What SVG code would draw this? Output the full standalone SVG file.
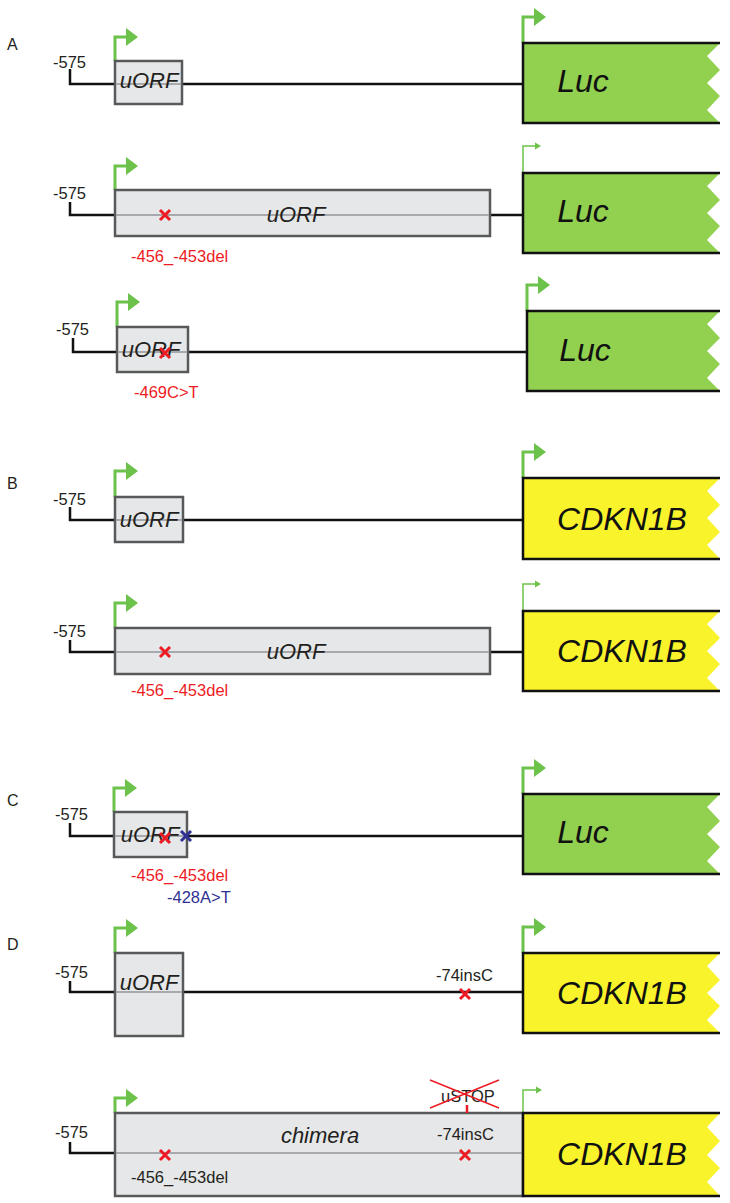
<svg xmlns="http://www.w3.org/2000/svg" width="730" height="1203" viewBox="0 0 730 1203">
<style>
text{font-family:"Liberation Sans",Arial,sans-serif;}
.lbl{font-size:16.5px;fill:#231f20;}
.red{font-size:16.5px;fill:#ed1c24;}
.navy{font-size:16.5px;fill:#2e3192;}
.sec{font-size:16px;fill:#231f20;}
.orf{font-size:22px;font-style:italic;fill:#231f20;text-anchor:middle;}
.gene{font-size:32px;font-style:italic;fill:#111;text-anchor:middle;}
.box{fill:#e6e7e8;stroke:#58595b;stroke-width:2.5;}
.mid{stroke:#a7a9ac;stroke-width:2;fill:none;}
.dna{stroke:#111;stroke-width:2.5;fill:none;}
.edge{stroke:#111;stroke-width:2.5;fill:none;}
.luc{fill:#92d050;}
.cdk{fill:#f8f32b;}
.arr{stroke:#6cc24a;stroke-width:3;fill:none;}
.arrh{fill:#6cc24a;}
.tarr{stroke:#6cc24a;stroke-width:1.5;fill:none;}
.xr{stroke:#ed1c24;stroke-width:3;}
.xb{stroke:#2e3192;stroke-width:3;}
</style>

<g id="connectors">
  <path class="dna" d="M70 69 V84 H115 M182 84 H523"/>
  <path class="dna" d="M70 202 V215 H115 M490 215 H523"/>
  <path class="dna" d="M73 338 V352 H117 M188 352 H527"/>
  <path class="dna" d="M70 507 V520 H115 M183 520 H523"/>
  <path class="dna" d="M70 640 V652 H115 M490 652 H523"/>
  <path class="dna" d="M70 823 V836 H114 M187 836 H523"/>
  <path class="dna" d="M70 981 V992 H115 M183 992 H523"/>
  <path class="dna" d="M70 1142 V1153 H115"/>
</g>

<g id="section-labels">
  <text class="sec" x="7" y="50">A</text>
  <text class="sec" x="7" y="489">B</text>
  <text class="sec" x="7" y="806">C</text>
  <text class="sec" x="7" y="950">D</text>
</g>

<g id="a1">
  <text class="lbl" x="53" y="68">-575</text>
  <path class="arr" d="M115 61 V37 H127"/><polygon class="arrh" points="126,28 138,37 126,46"/>
  <rect class="box" x="115" y="61" width="67" height="43"/>
  <line class="mid" x1="116" y1="84" x2="181" y2="84"/>
  <text class="orf" x="149" y="88">uORF</text>
  <path class="arr" d="M523 43 V17 H535"/><polygon class="arrh" points="534,8 546,17 534,26"/>
  <polygon class="luc" points="523,43 720,43 707,56 720,70 707,83 720,96 707,110 720,123 523,123"/>
  <polyline class="edge" points="720,43 523,43 523,123 720,123"/>
  <text class="gene" x="583" y="92">Luc</text>
</g>

<g id="a2">
  <text class="lbl" x="53" y="199">-575</text>
  <path class="arr" d="M115 190 V166 H127"/><polygon class="arrh" points="126,157 138,166 126,175"/>
  <rect class="box" x="115" y="190" width="375" height="46"/>
  <line class="mid" x1="116" y1="215" x2="489" y2="215"/>
  <text class="orf" x="296" y="222">uORF</text>
  <path class="xr" d="M160 210 L170 220 M170 210 L160 220"/>
  <text class="red" x="131" y="262">-456_-453del</text>
  <path class="tarr" d="M523 173 V146 H536"/><polygon class="arrh" points="535,142.5 541,146 535,149.5"/>
  <polygon class="luc" points="523,173 720,173 707,186 720,200 707,213 720,226 707,240 720,253 523,253"/>
  <polyline class="edge" points="720,173 523,173 523,253 720,253"/>
  <text class="gene" x="583" y="222">Luc</text>
</g>

<g id="a3">
  <text class="lbl" x="56" y="335">-575</text>
  <path class="arr" d="M117 327 V302 H129"/><polygon class="arrh" points="128,293 140,302 128,311"/>
  <rect class="box" x="117" y="327" width="71" height="45"/>
  <line class="mid" x1="118" y1="352" x2="187" y2="352"/>
  <text class="orf" x="151" y="357">uORF</text>
  <path class="xr" d="M160 348 L170 358 M170 348 L160 358"/>
  <text class="red" x="134" y="398">-469C&gt;T</text>
  <path class="arr" d="M527 311 V285 H539"/><polygon class="arrh" points="538,276 550,285 538,294"/>
  <polygon class="luc" points="527,311 720,311 707,324 720,338 707,351 720,364 707,378 720,391 527,391"/>
  <polyline class="edge" points="720,311 527,311 527,391 720,391"/>
  <text class="gene" x="585" y="361">Luc</text>
</g>

<g id="b1">
  <text class="lbl" x="53" y="505">-575</text>
  <path class="arr" d="M115 497 V471 H127"/><polygon class="arrh" points="126,462 138,471 126,480"/>
  <rect class="box" x="115" y="497" width="68" height="45"/>
  <line class="mid" x1="116" y1="520" x2="182" y2="520"/>
  <text class="orf" x="149" y="527">uORF</text>
  <path class="arr" d="M523 478 V452 H535"/><polygon class="arrh" points="534,443 546,452 534,461"/>
  <polygon class="cdk" points="523,478 720,478 707,491 720,505 707,518 720,532 707,545 720,559 523,559"/>
  <polyline class="edge" points="720,478 523,478 523,559 720,559"/>
  <text class="gene" x="622" y="530">CDKN1B</text>
</g>

<g id="b2">
  <text class="lbl" x="53" y="637">-575</text>
  <path class="arr" d="M115 628 V603 H127"/><polygon class="arrh" points="126,594 138,603 126,612"/>
  <rect class="box" x="115" y="628" width="375" height="46"/>
  <line class="mid" x1="116" y1="652" x2="489" y2="652"/>
  <text class="orf" x="296" y="659">uORF</text>
  <path class="xr" d="M160 647 L170 657 M170 647 L160 657"/>
  <text class="red" x="131" y="696">-456_-453del</text>
  <path class="tarr" d="M523 611 V584 H536"/><polygon class="arrh" points="535,580.5 541,584 535,587.5"/>
  <polygon class="cdk" points="523,611 720,611 707,624 720,638 707,651 720,664 707,678 720,691 523,691"/>
  <polyline class="edge" points="720,611 523,611 523,691 720,691"/>
  <text class="gene" x="622" y="662">CDKN1B</text>
</g>

<g id="c">
  <text class="lbl" x="55" y="820">-575</text>
  <path class="arr" d="M114 812 V788 H126"/><polygon class="arrh" points="125,779 137,788 125,797"/>
  <rect class="box" x="114" y="812" width="73" height="45"/>
  <line class="mid" x1="115" y1="836" x2="186" y2="836"/>
  <text class="orf" x="150" y="842">uORF</text>
  <path class="xr" d="M160 833 L170 843 M170 833 L160 843"/>
  <path class="xb" d="M181 831 L191 841 M191 831 L181 841"/>
  <text class="red" x="131" y="881">-456_-453del</text>
  <text class="navy" x="167" y="903">-428A&gt;T</text>
  <path class="arr" d="M523 794 V768 H535"/><polygon class="arrh" points="534,759 546,768 534,777"/>
  <polygon class="luc" points="523,794 720,794 707,807 720,821 707,834 720,847 707,861 720,874 523,874"/>
  <polyline class="edge" points="720,794 523,794 523,874 720,874"/>
  <text class="gene" x="583" y="843">Luc</text>
</g>

<g id="d1">
  <text class="lbl" x="55" y="978">-575</text>
  <path class="arr" d="M115 953 V928 H127"/><polygon class="arrh" points="126,919 138,928 126,937"/>
  <rect class="box" x="115" y="953" width="68" height="83"/>
  <line class="mid" x1="116" y1="992" x2="182" y2="992"/>
  <text class="orf" x="149" y="990">uORF</text>
  <text class="lbl" x="436" y="981">-74insC</text>
  <path class="xr" d="M460 989 L470 999 M470 989 L460 999"/>
  <path class="arr" d="M523 953 V927 H535"/><polygon class="arrh" points="534,918 546,927 534,936"/>
  <polygon class="cdk" points="523,953 720,953 707,966 720,980 707,993 720,1006 707,1020 720,1033 523,1033"/>
  <polyline class="edge" points="720,953 523,953 523,1033 720,1033"/>
  <text class="gene" x="622" y="1004">CDKN1B</text>
</g>

<g id="d2">
  <text class="lbl" x="55" y="1138">-575</text>
  <path class="arr" d="M115 1113 V1098 H127"/><polygon class="arrh" points="126,1089 138,1098 126,1107"/>
  <rect class="box" x="115" y="1113" width="408" height="83"/>
  <line class="mid" x1="116" y1="1153" x2="522" y2="1153"/>
  <text class="orf" x="320" y="1143">chimera</text>
  <text class="lbl" x="437" y="1140">-74insC</text>
  <path class="xr" d="M160 1150 L170 1160 M170 1150 L160 1160"/>
  <path class="xr" d="M460 1150 L470 1160 M470 1150 L460 1160"/>
  <text class="lbl" x="131" y="1183">-456_-453del</text>
  <text class="lbl" x="441" y="1102">uSTOP</text>
  <path stroke="#ed1c24" stroke-width="1.5" d="M430 1080 L499 1108 M430 1108 L499 1080"/>
  <line stroke="#ed1c24" stroke-width="2.5" x1="467" y1="1105" x2="467" y2="1113"/>
  <path class="tarr" d="M523 1113 V1090 H537"/><polygon class="arrh" points="536,1086.5 542,1090 536,1093.5"/>
  <polygon class="cdk" points="523,1113 720,1113 707,1127 720,1141 707,1155 720,1168 707,1182 720,1196 523,1196"/>
  <polyline class="edge" points="720,1113 523,1113 523,1196 720,1196"/>
  <text class="gene" x="622" y="1165">CDKN1B</text>
</g>
</svg>
